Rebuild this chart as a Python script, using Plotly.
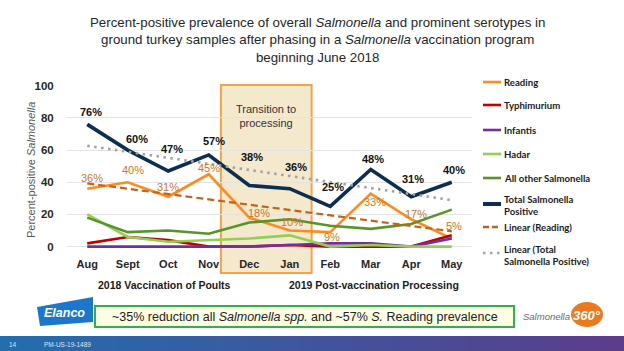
import numpy as np
import plotly.graph_objects as go

# ---------------- data ----------------
months = ["Aug", "Sept", "Oct", "Nov", "Dec", "Jan", "Feb", "Mar", "Apr", "May"]
reading = [36, 40, 31, 45, 18, 10, 9, 33, 17, 5]
typhimurium = [2, 6, 4, 0, 0, 1, 0, 0, 0, 7]
infantis = [0, 0, 0, 0, 0, 1, 2, 2, 0, 5]
hadar = [20, 6, 3, 4, 5, 7, 0, 1, 0, 0]
all_other = [18, 9, 10, 8, 15, 17, 13, 11, 14, 23]
total = [76, 60, 47, 57, 38, 36, 25, 48, 31, 40]
y_ticks = [0, 20, 40, 60, 80, 100]

# linear trendlines (least squares over the month index, as Excel does)
idx = np.arange(len(months))
trend_reading = np.polyval(np.polyfit(idx, reading, 1), idx)
trend_total = np.polyval(np.polyfit(idx, total, 1), idx)

# ---------------- geometry helpers ----------------
W, H = 624, 351
L, R, T, B = 67, 152, 85, 102
PW, PH = W - L - R, H - T - B


def xp(px):
    return (px - L) / PW


def yp(py):
    return (H - B - py) / PH


ARIAL = "Liberation Sans, Arial, sans-serif"
CAL = "Lato, Liberation Sans, sans-serif"

C_READ = "#ff8b1f"
C_TYPH = "#c00000"
C_INF = "#7030a0"
C_HAD = "#92d050"
C_OTH = "#55952a"
C_TOT = "#0c2e4f"
C_LREAD = "#c5621a"
C_LTOT = "#a3a3a3"
C_READ_LBL = "#c8782c"

fig = go.Figure()

series = [
    ("Reading", reading, C_READ, 2.6, "solid"),
    ("Typhimurium", typhimurium, C_TYPH, 2.6, "solid"),
    ("Infantis", infantis, C_INF, 2.6, "solid"),
    ("Hadar", hadar, C_HAD, 2.6, "solid"),
    ("All other Salmonella", all_other, C_OTH, 2.6, "solid"),
    ("Total Salmonella Positive", total, C_TOT, 3.6, "solid"),
    ("Linear (Reading)", list(trend_reading), C_LREAD, 2.2, "7px,4px"),
    ("Linear (Total Salmonella Positive)", list(trend_total), C_LTOT, 2.6, "2.5px,4.5px"),
]
for name, vals, col, w, dash in series:
    fig.add_trace(go.Scatter(
        x=months, y=vals, mode="lines", name=name,
        line=dict(color=col, width=w, dash=dash),
        showlegend=False, hoverinfo="skip",
    ))

annotations = []


def ptext(px, py, text, font, xanchor="center", **kw):
    annotations.append(dict(x=xp(px), y=yp(py), xref="paper", yref="paper", showarrow=False,
                            xanchor=xanchor, yanchor="middle", text=text, font=font, **kw))


# data labels
total_off = [(4, 12), (9, 11), (4, 22), (5, 14), (3, 28), (6, 22), (3, 19), (2, 10), (2, 18), (2, 12)]
read_off = [(5, 11), (5, 12), (0, 10), (0, 6), (10, 5), (2, 9), (2, -5), (4, -8), (5, 5), (2, 13)]
for m, v, (dx, dy) in zip(months, total, total_off):
    annotations.append(dict(x=m, y=v, xref="x", yref="y", text=f"{v}%", showarrow=False,
                            xanchor="center", yanchor="middle", xshift=dx, yshift=dy,
                            font=dict(family=ARIAL, size=11, color="#111111", weight="bold")))
for m, v, (dx, dy) in zip(months, reading, read_off):
    annotations.append(dict(x=m, y=v, xref="x", yref="y", text=f"{v}%", showarrow=False,
                            xanchor="center", yanchor="middle", xshift=dx, yshift=dy,
                            font=dict(family=ARIAL, size=11, color=C_READ_LBL)))

shapes = []
# transition rectangle
shapes.append(dict(type="rect", xref="x", yref="paper", x0=3.30, x1=5.54,
                   y0=yp(273), y1=yp(85), fillcolor="#f4e8cd",
                   line=dict(color="#f5a24a", width=2), layer="below"))
annotations.append(dict(x=4.42, xref="x", y=yp(116), yref="paper", text="Transition to<br>processing",
                        xanchor="center", yanchor="middle",
                        showarrow=False, font=dict(family=ARIAL, size=11, color="#333333")))

# title
ptext(317, 40,
      "Percent-positive prevalence of overall <i>Salmonella</i> and prominent serotypes in"
      "<br>ground turkey samples after phasing in a <i>Salmonella</i> vaccination program"
      "<br>beginning June 2018",
      dict(family=ARIAL, size=13.3, color="#262626"))

# y-axis title
ptext(31, 170, "Percent-positive <i>Salmonella</i>",
      dict(family=ARIAL, size=11, color="#595959"), textangle=-90)

# period labels
ptext(164, 285, "2018 Vaccination of Poults",
      dict(family=ARIAL, size=10.5, color="#1a1a1a", weight="bold"))
ptext(374, 285, "2019 Post-vaccination Processing",
      dict(family=ARIAL, size=10.5, color="#1a1a1a", weight="bold"))

# custom legend
legend_items = [
    ("Reading", C_READ, 2.6, "solid", 82, 82),
    ("Typhimurium", C_TYPH, 2.6, "solid", 105, 105),
    ("Infantis", C_INF, 2.6, "solid", 130, 130),
    ("Hadar", C_HAD, 2.6, "solid", 154, 154),
    ("All other Salmonella", C_OTH, 2.6, "solid", 178, 178),
    ("Total Salmonella<br>Positive", C_TOT, 4, "solid", 204, 205),
    ("Linear (Reading)", C_LREAD, 2.4, "6px,3px", 227, 227),
    ("Linear (Total<br>Salmonella Positive)", C_LTOT, 2.6, "2.5px,4.5px", 253, 255),
]
for text, col, w, dash, sy, ty in legend_items:
    shapes.append(dict(type="line", xref="paper", yref="paper", x0=xp(483), x1=xp(501),
                       y0=yp(sy), y1=yp(sy), line=dict(color=col, width=w, dash=dash)))
    ptext(502, ty, text, dict(family=CAL, size=9.6, color="#1a1a1a", weight="bold"),
          xanchor="left", align="left")

# bottom message box
shapes.append(dict(type="rect", xref="paper", yref="paper", x0=xp(95), x1=xp(514),
                   y0=yp(327), y1=yp(306), fillcolor="#fdfde3",
                   line=dict(color="#2fb24b", width=2)))
ptext(305, 317, "~35% reduction all <i>Salmonella spp.</i> and ~57% <i>S.</i> Reading prevalence",
      dict(family=ARIAL, size=12.5, color="#222222"))

# Elanco logo
path = "M {} {} L {} {} L {} {} L {} {} Z".format(
    xp(37), yp(307), xp(93), yp(297), xp(93), yp(322), xp(40), yp(326))
shapes.append(dict(type="path", xref="paper", yref="paper", path=path,
                   fillcolor="#1c77cc", line=dict(width=0)))
ptext(64, 313, "<i>Elanco</i>", dict(family=ARIAL, size=12.5, color="white", weight="bold"))

# Salmonella 360 logo
ptext(546, 316, "<i>Salmonella</i>", dict(family=ARIAL, size=9.5, color="#6b6b6b"))
shapes.append(dict(type="circle", xref="paper", yref="paper", x0=xp(571), x1=xp(603),
                   y0=yp(327), y1=yp(302), fillcolor="#ea7a1c", line=dict(width=0)))
ptext(587, 315, "<i>360°</i>", dict(family=ARIAL, size=13, color="white", weight="bold"))

# bottom gradient bar
c0 = np.array([36, 110, 174])
c1 = np.array([92, 61, 140])
nstrip = 48
for i in range(nstrip):
    f = i / (nstrip - 1)
    c = (c0 * (1 - f) + c1 * f).astype(int)
    shapes.append(dict(type="rect", xref="paper", yref="paper",
                       x0=xp(W * i / nstrip), x1=xp(W * (i + 1) / nstrip + 0.5),
                       y0=yp(351), y1=yp(336),
                       fillcolor=f"rgb({c[0]},{c[1]},{c[2]})", line=dict(width=0)))
ptext(13, 344, "14", dict(family=ARIAL, size=6.5, color="#dfe3f0"))
ptext(67, 344, "PM-US-19-1489", dict(family=ARIAL, size=6.5, color="#dfe3f0"))

fig.update_layout(
    width=W, height=H,
    margin=dict(l=L, r=R, t=T, b=B, pad=0),
    paper_bgcolor="white",
    plot_bgcolor="rgba(0,0,0,0)",
    showlegend=False,
    shapes=shapes,
    annotations=annotations,
    xaxis=dict(type="category", categoryorder="array", categoryarray=months,
               range=[-0.5, len(months) - 0.5], showgrid=False, zeroline=False, showline=False,
               ticks="outside", ticklen=5, tickcolor="rgba(0,0,0,0)",
               tickfont=dict(family=ARIAL, size=11, color="#262626", weight="bold")),
    yaxis=dict(range=[-1.5, 100.5], tickvals=y_ticks, showgrid=True, gridcolor="#e3e3e3",
               gridwidth=1, zeroline=False, showline=False,
               ticks="outside", ticklen=10, tickcolor="rgba(0,0,0,0)",
               tickfont=dict(family=ARIAL, size=11.5, color="#262626", weight="bold")),
)

fig.write_html("out.html")
